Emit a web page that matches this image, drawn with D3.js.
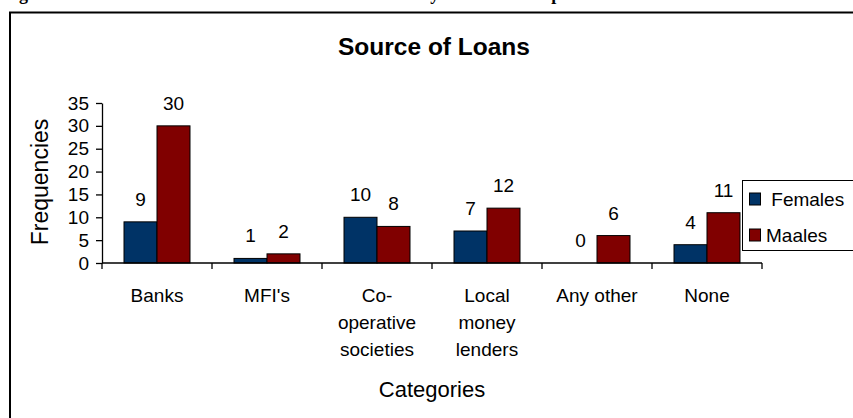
<!DOCTYPE html>
<html>
<head>
<meta charset="utf-8">
<script src="https://cdn.jsdelivr.net/npm/d3@7"></script>
<style>
  html, body { margin: 0; padding: 0; background: #fff; overflow: hidden; }
  svg { display: block; }
  text { font-family: "Liberation Sans", Arial, sans-serif; fill: #000; }
</style>
</head>
<body>
<svg id="chart" width="853" height="418"></svg>
<script>
// Loan sources reported by female and male respondents
const categories = ["Banks", "MFI's", "Co-operative societies", "Local money lenders", "Any other", "None"];
const categoryLines = [["Banks"], ["MFI's"], ["Co-", "operative", "societies"], ["Local", "money", "lenders"], ["Any other"], ["None"]];
const seriesNames = ["Females", "Maales"];
const females = [9, 1, 10, 7, 0, 4];
const males = [30, 2, 8, 12, 6, 11];
const yTicks = [0, 5, 10, 15, 20, 25, 30, 35];
const seriesColors = ["#003366", "#800000"];

const svg = d3.select("#chart");

// Figure caption of the surrounding document (mostly above the page edge)
svg.append("text")
  .attr("x", 3).attr("y", 0)
  .style("font-family", "'Liberation Serif', 'Times New Roman', serif")
  .style("font-weight", "bold")
  .style("font-size", "18px")
  .text("Figure 4.6: Distribution of the Sources of Loans taken by Sex of the Respondents");

// Chart frame
svg.append("rect")
  .attr("x", 10).attr("y", 12.5)
  .attr("width", 900).attr("height", 500)
  .attr("fill", "none").attr("stroke", "#000").attr("stroke-width", 2);

const plot = { left: 102, right: 762, top: 103, bottom: 263 };

const x0 = d3.scaleBand().domain(categories).range([plot.left, plot.right]).padding(0);
const x1 = d3.scaleBand().domain(seriesNames).range([0, x0.bandwidth()])
  .paddingInner(0).paddingOuter(0.667);
const y = d3.scaleLinear().domain([0, 35]).range([plot.bottom, plot.top]);

// Title
svg.append("text")
  .attr("x", 434).attr("y", 55)
  .attr("text-anchor", "middle")
  .style("font-size", "24.5px").style("font-weight", "bold")
  .text("Source of Loans");

// Bars
const rows = categories.map((c, i) => ({ cat: c, values: [females[i], males[i]] }));
const groups = svg.append("g").selectAll("g").data(rows).join("g")
  .attr("transform", d => `translate(${x0(d.cat)},0)`);

groups.selectAll("rect")
  .data(d => d.values.map((v, j) => ({ key: seriesNames[j], v, j })))
  .join("rect")
  .attr("x", d => x1(d.key))
  .attr("y", d => y(d.v))
  .attr("width", x1.bandwidth())
  .attr("height", d => y(0) - y(d.v))
  .attr("fill", d => seriesColors[d.j])
  .attr("stroke", "#000").attr("stroke-width", 1);

groups.selectAll("text.val")
  .data(d => d.values.map((v, j) => ({ key: seriesNames[j], v })))
  .join("text")
  .attr("class", "val")
  .attr("x", d => x1(d.key) + x1.bandwidth() / 2)
  .attr("y", d => y(d.v) - 16)
  .attr("text-anchor", "middle")
  .style("font-size", "19px")
  .text(d => d.v);

// Y axis
const yAxis = svg.append("g")
  .attr("transform", `translate(${plot.left},0)`)
  .call(d3.axisLeft(y).tickValues(yTicks).tickSize(6).tickPadding(7).tickSizeOuter(0));
yAxis.select(".domain").attr("stroke", "#000").attr("stroke-width", 1.3);
yAxis.selectAll(".tick line").attr("stroke", "#000").attr("stroke-width", 1.3);
yAxis.selectAll(".tick text")
  .style("font-family", "'Liberation Sans', Arial, sans-serif")
  .style("font-size", "19px").attr("fill", "#000");

// X axis: line with ticks on the category boundaries
const xAxis = svg.append("g").attr("transform", `translate(0,${plot.bottom})`);
xAxis.append("line")
  .attr("x1", plot.left).attr("x2", plot.right)
  .attr("stroke", "#000").attr("stroke-width", 1.3);
const bounds = categories.map(c => x0(c)).concat([x0(categories[categories.length - 1]) + x0.bandwidth()]);
xAxis.selectAll("line.tk").data(bounds).join("line")
  .attr("class", "tk")
  .attr("x1", d => d).attr("x2", d => d)
  .attr("y1", 0).attr("y2", 6)
  .attr("stroke", "#000").attr("stroke-width", 1.3);

const labels = svg.append("g").selectAll("text").data(categories).join("text")
  .attr("x", c => x0(c) + x0.bandwidth() / 2)
  .attr("y", 302)
  .attr("text-anchor", "middle")
  .style("font-size", "19px");
labels.each(function (c, i) {
  d3.select(this).selectAll("tspan").data(categoryLines[i]).join("tspan")
    .attr("x", x0(c) + x0.bandwidth() / 2)
    .attr("dy", (d, k) => k === 0 ? 0 : 27)
    .text(d => d);
});

// Axis titles
svg.append("text")
  .attr("transform", "translate(48,182) rotate(-90)")
  .attr("text-anchor", "middle")
  .style("font-size", "23px")
  .text("Frequencies");

svg.append("text")
  .attr("x", 432).attr("y", 397)
  .attr("text-anchor", "middle")
  .style("font-size", "22px")
  .text("Categories");

// Legend
const legend = svg.append("g");
legend.append("rect")
  .attr("x", 742.5).attr("y", 180.5)
  .attr("width", 200).attr("height", 70)
  .attr("fill", "#fff").attr("stroke", "#000").attr("stroke-width", 1);
const legendText = [" Females", "Maales"];
const legendTextX = [766, 766];
seriesNames.forEach((s, i) => {
  const cy = 199 + i * 36;
  legend.append("rect")
    .attr("x", 749.5).attr("y", cy - 6)
    .attr("width", 11).attr("height", 12)
    .attr("fill", seriesColors[i]).attr("stroke", "#000").attr("stroke-width", 1);
  legend.append("text")
    .attr("x", legendTextX[i]).attr("y", cy + 7)
    .style("font-size", "19px")
    .style("white-space", "pre")
    .attr("xml:space", "preserve")
    .text(legendText[i]);
});
</script>
</body>
</html>
